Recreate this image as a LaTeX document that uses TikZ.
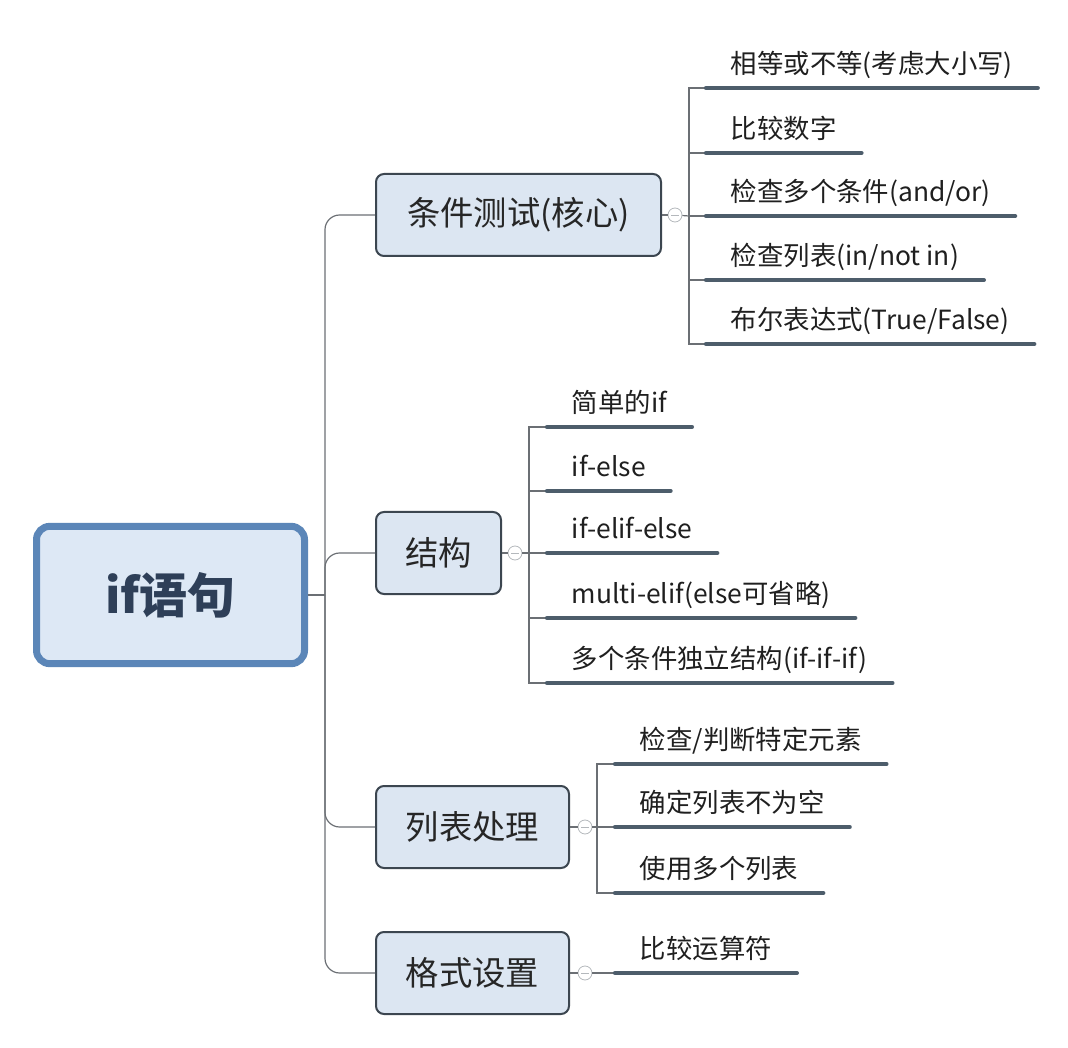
\documentclass[tikz,border=0pt]{standalone}
\usepackage{fontspec}
\setmainfont{Noto Sans CJK SC}
\usetikzlibrary{calc}

\definecolor{rootline}{HTML}{5B86B8}
\definecolor{rootfill}{HTML}{DDE8F5}
\definecolor{roottext}{HTML}{2E3F58}
\definecolor{topicline}{HTML}{3C4650}
\definecolor{topicfill}{HTML}{DCE6F2}
\definecolor{linegray}{HTML}{6B6F74}
\definecolor{ulinegray}{HTML}{4D5D6B}
\definecolor{markgray}{HTML}{B4B8BC}

\begin{document}
\begin{tikzpicture}[x=0.75pt,y=-0.75pt,
		conn/.style={draw=linegray, line width=0.9pt},
		uline/.style={draw=ulinegray, line width=3.2pt, line cap=round},
		root/.style={draw=rootline, fill=rootfill, line width=5.25pt, rounded corners=10pt,
			minimum width=201pt, minimum height=103pt, text=roottext,
			font=\fontsize{36}{36}\selectfont\bfseries},
		topic/.style={draw=topicline, fill=topicfill, line width=1.5pt, rounded corners=6pt,
			minimum height=61.5pt, text=black!85, font=\fontsize{25}{25}\selectfont},
		leaf/.style={anchor=south west, inner xsep=18.5pt, inner ysep=5.6pt, text depth=5pt,
			text=black!88, font=\fontsize{19.8}{19.8}\selectfont},
		marker/.style={circle, draw=markgray, line width=0.6pt, minimum size=10.5pt, inner sep=0pt,
			path picture={\draw[markgray] ([xshift=-3pt]path picture bounding box.center) -- ([xshift=3pt]path picture bounding box.center);}}]
	%%%%% START %%%%%
	
	\useasboundingbox (0,0) rectangle (1068,1048);
	
	\node[root] (root) at (170.5,595) {if语句};
	
	\node[topic, minimum width=213.75pt] (b1) at (518.5,215) {条件测试(核心)};
	\node[topic, minimum width=93.75pt] (b2) at (438.5,553) {结构};
	\node[topic, minimum width=144.75pt] (b3) at (472.5,827) {列表处理};
	\node[topic, minimum width=144.75pt] (b4) at (472.5,973) {格式设置};
	
	\coordinate (trunk) at (325,595);
	\draw[conn] (root.east) -- (trunk);
	\foreach \b in {b1,b2,b3,b4}
		\draw[conn, rounded corners=11pt] (trunk) |- (\b.west);
	
	\node[marker] (mk1) at ($(b1.east)+(13,0)$) {};
	\node[marker] (mk2) at ($(b2.east)+(13,0)$) {};
	\node[marker] (mk3) at ($(b3.east)+(15,0)$) {};
	\node[marker] (mk4) at ($(b4.east)+(15,0)$) {};
	
	% leaves of b1
	\node[leaf] (l11) at (706,88) {相等或不等(考虑大小写)};
	\node[leaf] (l12) at (706,153) {比较数字};
	\node[leaf] (l13) at (706,216) {检查多个条件(and/or)};
	\node[leaf] (l14) at (706,280) {检查列表(in/not in)};
	\node[leaf] (l15) at (706,344) {布尔表达式(True/False)};
	
	% leaves of b2
	\node[leaf] (l21) at (547,427) {简单的if};
	\node[leaf] (l22) at (547,491) {if-else};
	\node[leaf] (l23) at (547,553) {if-elif-else};
	\node[leaf] (l24) at (547,618) {multi-elif(else可省略)};
	\node[leaf] (l25) at (547,683) {多个条件独立结构(if-if-if)};
	
	% leaves of b3
	\node[leaf] (l31) at (615,764) {检查/判断特定元素};
	\node[leaf] (l32) at (615,827) {确定列表不为空};
	\node[leaf] (l33) at (615,893) {使用多个列表};
	
	% leaf of b4
	\node[leaf] (l41) at (615,973) {比较运算符};
	
	\coordinate (j1) at (689,216);
	\coordinate (j2) at (529,553);
	\coordinate (j3) at (597,827);
	
	\draw[conn] (b1.east) -- (mk1);
	\draw[conn] (mk1) -- (j1);
	\draw[conn] (l11.south west) -| (j1) |- (l15.south west);
	\foreach \n in {12,13,14}
		\draw[conn] (l\n.south west) -- (l\n.south west -| j1);
	
	\draw[conn] (b2.east) -- (mk2);
	\draw[conn] (mk2) -- (j2);
	\draw[conn] (l21.south west) -| (j2) |- (l25.south west);
	\foreach \n in {22,23,24}
		\draw[conn] (l\n.south west) -- (l\n.south west -| j2);
	
	\draw[conn] (b3.east) -- (mk3);
	\draw[conn] (mk3) -- (j3);
	\draw[conn] (l31.south west) -| (j3) |- (l33.south west);
	\draw[conn] (l32.south west) -- (l32.south west -| j3);
	
	\draw[conn] (b4.east) -- (mk4);
	\draw[conn] (mk4) -- (l41.south west);
	
	\foreach \n in {11,12,13,14,15,21,22,23,24,25,31,32,33,41}
		\draw[uline] (l\n.south west) -- (l\n.south east);
	
	%%%%% END %%%%%
\end{tikzpicture}
\end{document}
